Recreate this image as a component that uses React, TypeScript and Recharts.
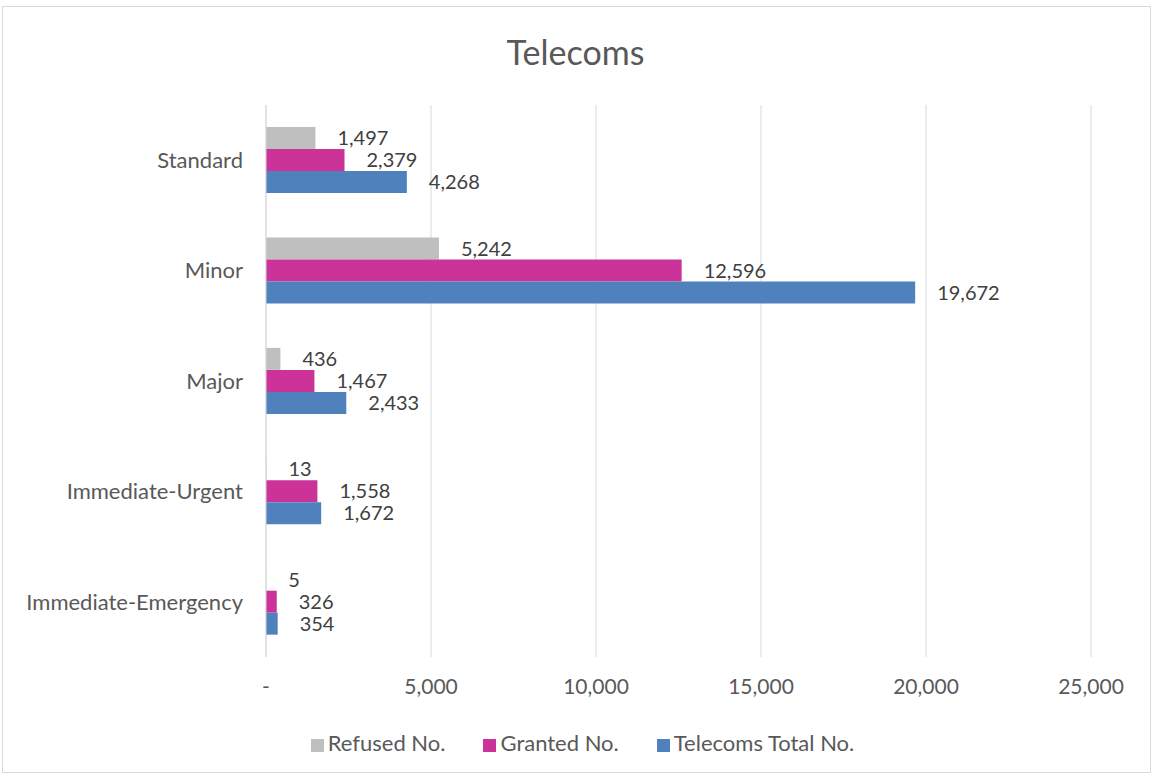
import { BarChart, Bar, XAxis, YAxis, CartesianGrid, Legend, LabelList } from 'recharts';

const categories = ['Standard', 'Minor', 'Major', 'Immediate-Urgent', 'Immediate-Emergency'];
const refused = [1497, 5242, 436, 13, 5];
const granted = [2379, 12596, 1467, 1558, 326];
const total = [4268, 19672, 2433, 1672, 354];
const xTicks = [0, 5000, 10000, 15000, 20000, 25000];
const seriesNames = ['Refused No.', 'Granted No.', 'Telecoms Total No.'];

const data = categories.map((name, i) => ({
  name,
  refused: refused[i],
  granted: granted[i],
  total: total[i],
}));

const fmt = (v: number) => (v === 0 ? '-' : Number(v).toLocaleString('en-US'));
const font = 'Lato, Carlito, "Open Sans", sans-serif';

export default function App() {
  return (
    <div style={{ position: 'fixed', top: 0, left: 0, width: 1151, height: 773, background: '#fff', fontFamily: font }}>
      <div style={{ position: 'absolute', left: 2, top: 6, width: 1147, height: 765, border: '1px solid #d9d9d9' }} />
      <div style={{ position: 'absolute', top: 31, left: 0, width: 1151, textAlign: 'center', fontSize: 34, color: '#595959' }}>
        Telecoms
      </div>
      <BarChart
        width={1151}
        height={773}
        data={data}
        layout="vertical"
        margin={{ top: 105, right: 60, left: 0, bottom: 17 }}
        barCategoryGap="20%"
        barGap={0}
      >
        <CartesianGrid horizontal={false} stroke="#d9d9d9" />
        <XAxis
          type="number"
          domain={[0, 25000]}
          ticks={xTicks}
          tickFormatter={fmt}
          axisLine={false}
          tickLine={false}
          tickSize={0}
          tickMargin={22}
          height={72}
          tick={{ fill: '#595959', fontSize: 21, fontFamily: font }}
        />
        <YAxis
          type="category"
          dataKey="name"
          width={266}
          axisLine={{ stroke: '#d9d9d9' }}
          tickLine={false}
          tickSize={0}
          tickMargin={23}
          tick={{ fill: '#595959', fontSize: 22, fontFamily: font }}
        />
        <Legend
          verticalAlign="bottom"
          iconType="square"
          iconSize={13}
          itemSorter={(item: any) => seriesNames.indexOf(item.value)}
          wrapperStyle={{ fontSize: 22, fontFamily: font, left: 56 }}
          formatter={(value) => <span style={{ color: '#595959', marginRight: 28 }}>{value}</span>}
        />
        <Bar dataKey="refused" name={seriesNames[0]} fill="#bfbfbf" isAnimationActive={false}>
          <LabelList dataKey="refused" position="right" offset={22} formatter={fmt} fill="#404040" fontSize={20} fontFamily={font} />
        </Bar>
        <Bar dataKey="granted" name={seriesNames[1]} fill="#cc3399" isAnimationActive={false}>
          <LabelList dataKey="granted" position="right" offset={22} formatter={fmt} fill="#404040" fontSize={20} fontFamily={font} />
        </Bar>
        <Bar dataKey="total" name={seriesNames[2]} fill="#4f81bd" isAnimationActive={false}>
          <LabelList dataKey="total" position="right" offset={22} formatter={fmt} fill="#404040" fontSize={20} fontFamily={font} />
        </Bar>
      </BarChart>
    </div>
  );
}
